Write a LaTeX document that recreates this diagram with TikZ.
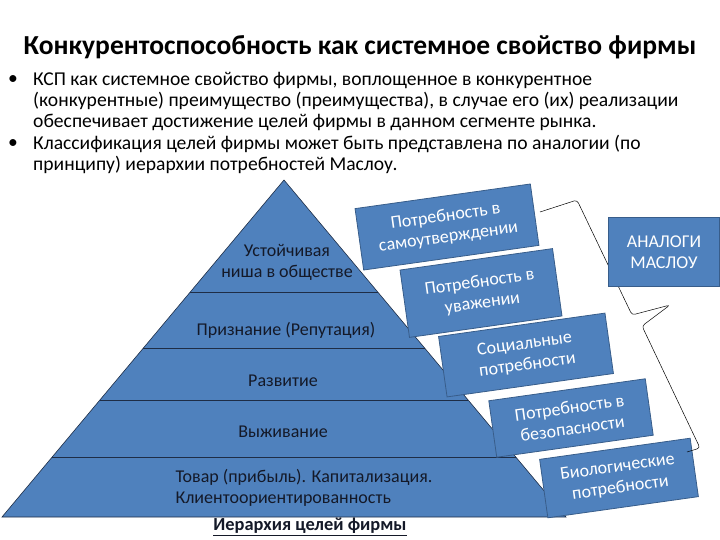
\documentclass[tikz,border=0pt]{standalone}
\usepackage{fontspec}
\setmainfont{Carlito}
\begin{document}
\begin{tikzpicture}[x=1pt,y=-1pt,
  pyr/.style={fill=pyrblue,draw=pyrline,line width=0.6pt},
  lay/.style={text=laytext,font=\fontsize{18}{21}\selectfont,align=center},
  mbox/.style={fill=pyrblue,draw=boxline,line width=0.8pt,text=white,rotate=8,align=center,inner sep=0pt,font=\fontsize{18}{21}\selectfont},
  bul/.style={anchor=west,font=\fontsize{19.6}{22}\selectfont,inner sep=0pt}]
\definecolor{pyrblue}{RGB}{79,129,189}
\definecolor{pyrline}{RGB}{30,45,70}
\definecolor{boxline}{RGB}{56,93,138}
\definecolor{laytext}{RGB}{20,25,40}
\useasboundingbox (0,0) rectangle (720,540);
\node[font=\bfseries\fontsize{27.5}{30}\selectfont] (title) at (360,47) {Конкурентоспособность как системное свойство фирмы};
\node[bul] (b1) at (8,80) {•};
\node[bul] (t1) at (33,80) {КСП как системное свойство фирмы, воплощенное в конкурентное};
\node[bul] (t2) at (33,101) {(конкурентные) преимущество (преимущества), в случае его (их) реализации};
\node[bul] (t3) at (33,122) {обеспечивает достижение целей фирмы в данном сегменте рынка.};
\node[bul] (b2) at (8,144) {•};
\node[bul] (t4) at (33,144) {Классификация целей фирмы может быть представлена по аналогии (по};
\node[bul] (t5) at (33,165) {принципу) иерархии потребностей Маслоу.};
% pyramid
\coordinate (apex) at (284,180);
\coordinate (bl) at (2,517);
\coordinate (br) at (566,517);
\draw[pyr] (apex) -- (br) -- (bl) -- cycle;
\foreach \y in {292,348,400,457}{
  \draw[pyrline,line width=0.6pt] ({284-(\y-180)*0.8368},\y) -- ({284+(\y-180)*0.8368},\y);
}
\node[lay] (l1) at (287,262) {Устойчивая\\ниша в обществе};
\node[lay] (l2) at (286,330) {Признание (Репутация)};
\node[lay] (l3) at (283,381) {Развитие};
\node[lay] (l4) at (283,432) {Выживание};
\node[lay,align=left,anchor=west] (l5) at (172,488) {Товар (прибыль). Капитализация.\\Клиентоориентированность};
\node[font=\bfseries\fontsize{18.4}{20}\selectfont,text=laytext] (cap) at (310,527) {\underline{Иерархия целей фирмы}};
% maslow boxes
\node[mbox,minimum width=177pt,minimum height=62pt] (m1) at (447,227) {Потребность в\\самоутверждении};
\node[mbox,minimum width=154pt,minimum height=68pt] (m2) at (481,293) {Потребность в\\уважении};
\node[mbox,minimum width=168pt,minimum height=61pt] (m3) at (526,355) {Социальные\\потребности};
\node[mbox,minimum width=158pt,minimum height=57pt] (m4) at (571,418) {Потребность в\\безопасности};
\node[mbox,minimum width=152pt,minimum height=59pt] (m5) at (619,478) {Биологические\\потребности};
% brace
\coordinate (br1) at (540,212);
\coordinate (br7) at (687,452);
\draw[black,line width=0.5pt,rounded corners=3pt] (br1) -- (577,200) -- (632,315) -- (670,305) -- (642,326) -- (700,448) -- (br7);
% analog box
\node[fill=pyrblue,draw=boxline,line width=0.8pt,text=white,align=center,minimum width=111pt,minimum height=69pt,inner sep=0pt,font=\fontsize{18}{21}\selectfont] (an) at (664,252) {АНАЛОГИ\\МАСЛОУ};
\end{tikzpicture}
\end{document}
